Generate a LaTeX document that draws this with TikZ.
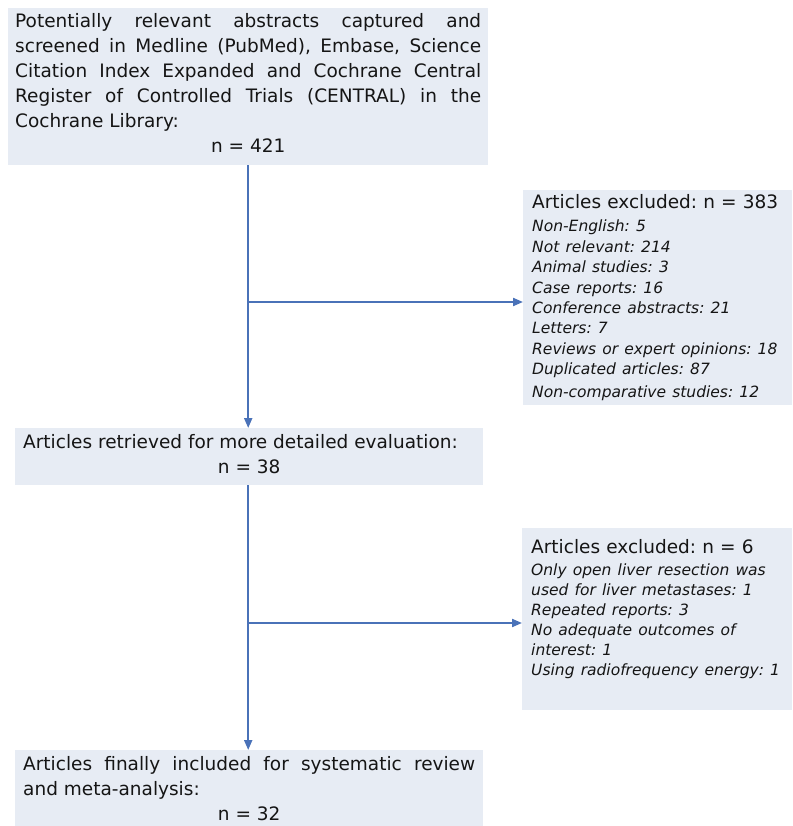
\documentclass[tikz,border=0pt]{standalone}
\usepackage{fontspec}
\setmainfont{DejaVu Sans}
\usetikzlibrary{arrows.meta}
\definecolor{boxfill}{HTML}{E7ECF4}
\definecolor{arrowblue}{HTML}{4A72B8}
\definecolor{txt}{HTML}{151515}
\frenchspacing
\begin{document}
\begin{tikzpicture}[x=1pt,y=-1pt,
  box/.style={fill=boxfill, draw=none, anchor=north west, inner xsep=7pt, inner ysep=0pt,
    align=justify, text=txt, font=\fontsize{18.5}{25}\selectfont,
    execute at begin node={\setlength{\parindent}{0pt}\frenchspacing\spaceskip=0.32em plus 3em minus 0.05em}},
  exbox/.style={fill=boxfill, draw=none, anchor=north west, inner xsep=9pt, inner ysep=0pt,
    align=left, text=txt, font=\fontsize{18.5}{23}\selectfont,
    execute at begin node={\setlength{\parindent}{0pt}\frenchspacing}},
  link/.style={draw=arrowblue, line width=2pt},
  arr/.style={link, -{Triangle[length=10pt,width=8pt]}}
]
\useasboundingbox (0,0) rectangle (792,826);

\node[box, text width=466pt, minimum width=480pt, minimum height=157pt] (box1) at (8,8)
  {Potentially relevant abstracts captured and\linebreak
   screened in Medline (PubMed), Embase, Science\linebreak
   Citation Index Expanded and Cochrane Central\linebreak
   Register of Controlled Trials (CENTRAL) in the\linebreak
   Cochrane Library:\par
   \centerline{\rule[-8pt]{0pt}{8pt}n = 421}};

\node[exbox, text width=251pt, minimum width=269pt, minimum height=215pt] (excl1) at (523,190)
  {Articles excluded: n = 383\par\vspace{3pt}
   \fontsize{15.5}{20.4}\selectfont\itshape
   Non-English: 5\\
   Not relevant: 214\\
   Animal studies: 3\\
   Case reports: 16\\
   Conference abstracts: 21\\
   Letters: 7\\
   Reviews or expert opinions: 18\\
   Duplicated articles: 87\\
   Non-comparative studies: 12};

\node[box, inner xsep=8pt, text width=452pt, minimum width=468pt, minimum height=57pt] (box2) at (15,428)
  {Articles retrieved for more detailed evaluation:\par
   \centerline{\rule[-6pt]{0pt}{6pt}n = 38}};

\node[exbox, text width=252pt, minimum width=270pt, minimum height=182pt] (excl2) at (522,528)
  {Articles excluded: n = 6\par\vspace{2pt}
   \fontsize{15.5}{20}\selectfont\itshape
   Only open liver resection was\\
   used for liver metastases: 1\\
   Repeated reports: 3\\
   No adequate outcomes of\\
   interest: 1\\
   Using radiofrequency energy: 1\par
   \rule{0pt}{15pt}};

\node[box, inner xsep=8pt, text width=452pt, minimum width=468pt, minimum height=76pt] (box3) at (15,750)
  {Articles finally included for systematic review\linebreak
   and meta-analysis:\par
   \centerline{n = 32}};

\coordinate (j1) at (248,302);
\coordinate (j2) at (248,623);

\draw[arr] (box1.south) -- (box1.south |- box2.north);
\draw[arr] (j1) -- (j1 -| excl1.west);
\draw[arr] (box1.south |- box2.south) -- (box1.south |- box3.north);
\draw[arr] (j2) -- (j2 -| excl2.west);
\end{tikzpicture}
\end{document}
